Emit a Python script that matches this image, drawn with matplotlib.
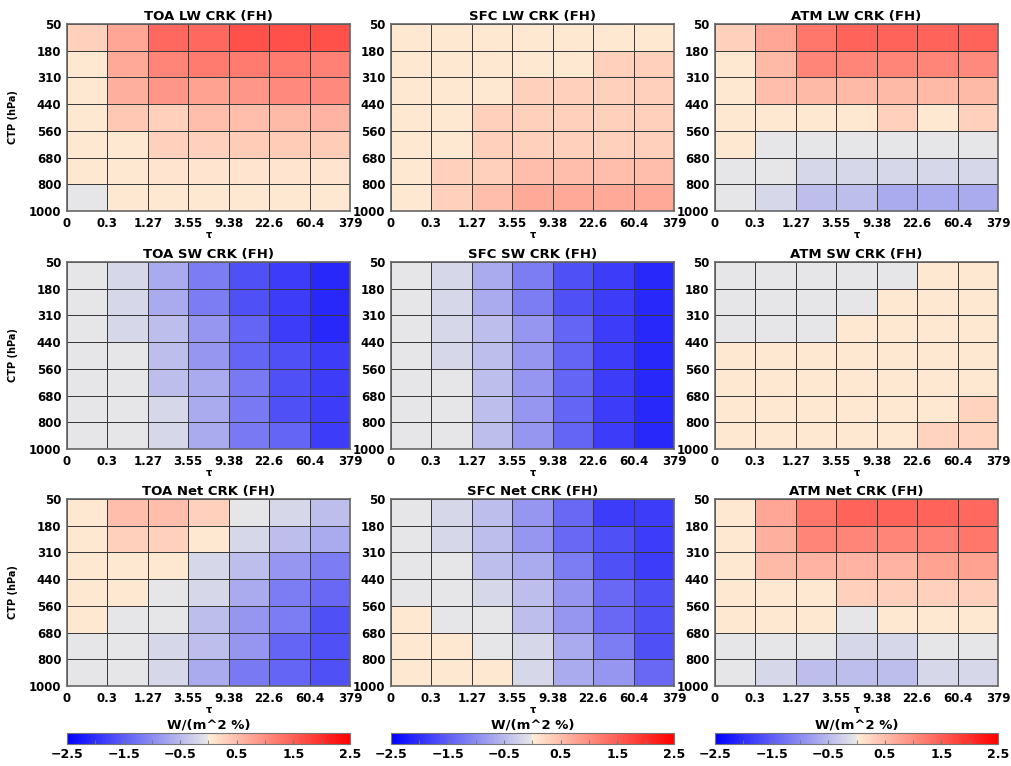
import numpy as np
import matplotlib
matplotlib.use("Agg")
import matplotlib.pyplot as plt
from matplotlib.colors import LinearSegmentedColormap, Normalize

# ---------------- data ----------------
tau_labels = ["0", "0.3", "1.27", "3.55", "9.38", "22.6", "60.4", "379"]
ctp_labels = ["50", "180", "310", "440", "560", "680", "800", "1000"]

# rows: CTP bins from top (50-180) to bottom (800-1000); cols: tau bins
toa_lw = [
    [0.30, 0.75, 1.40, 1.40, 1.65, 1.65, 1.65],
    [0.05, 0.72, 1.10, 1.20, 1.20, 1.20, 1.15],
    [0.05, 0.65, 0.90, 0.80, 0.90, 1.05, 1.05],
    [0.05, 0.40, 0.30, 0.50, 0.50, 0.55, 0.60],
    [0.05, 0.05, 0.30, 0.30, 0.35, 0.35, 0.35],
    [0.05, 0.05, 0.08, 0.08, 0.08, 0.08, 0.08],
    [-0.02, 0.05, 0.05, 0.05, 0.05, 0.05, 0.05],
]
sfc_lw = [
    [0.05, 0.05, 0.05, 0.05, 0.05, 0.05, 0.05],
    [0.05, 0.05, 0.05, 0.05, 0.05, 0.30, 0.30],
    [0.05, 0.05, 0.05, 0.30, 0.30, 0.30, 0.30],
    [0.05, 0.05, 0.30, 0.30, 0.30, 0.30, 0.30],
    [0.05, 0.05, 0.30, 0.30, 0.30, 0.30, 0.30],
    [0.05, 0.30, 0.30, 0.50, 0.50, 0.50, 0.50],
    [0.05, 0.30, 0.50, 0.72, 0.72, 0.72, 0.72],
]
atm_lw = [
    [0.30, 0.75, 1.25, 1.45, 1.45, 1.45, 1.45],
    [0.05, 0.55, 1.10, 1.10, 1.10, 1.10, 1.05],
    [0.05, 0.50, 0.55, 0.55, 0.55, 0.55, 0.55],
    [0.05, 0.05, 0.05, 0.05, 0.30, 0.05, 0.30],
    [0.05, -0.02, -0.02, -0.02, -0.02, -0.02, -0.02],
    [-0.02, -0.02, -0.18, -0.18, -0.18, -0.18, -0.18],
    [-0.02, -0.18, -0.45, -0.45, -0.67, -0.67, -0.67],
]
toa_sw = [
    [-0.02, -0.18, -0.67, -1.15, -1.64, -1.85, -2.07],
    [-0.02, -0.18, -0.67, -1.15, -1.64, -1.85, -2.07],
    [-0.02, -0.18, -0.45, -0.88, -1.42, -1.85, -2.07],
    [-0.02, -0.02, -0.45, -0.88, -1.42, -1.64, -1.85],
    [-0.02, -0.02, -0.45, -0.67, -1.20, -1.64, -1.85],
    [-0.02, -0.02, -0.18, -0.67, -1.20, -1.64, -1.85],
    [-0.02, -0.02, -0.18, -0.67, -1.20, -1.42, -1.85],
]
sfc_sw = [
    [-0.02, -0.18, -0.67, -1.15, -1.64, -1.85, -2.07],
    [-0.02, -0.18, -0.67, -1.15, -1.64, -1.85, -2.07],
    [-0.02, -0.18, -0.45, -0.88, -1.42, -1.85, -2.07],
    [-0.02, -0.18, -0.45, -0.88, -1.42, -1.85, -2.07],
    [-0.02, -0.02, -0.45, -0.88, -1.42, -1.85, -2.07],
    [-0.02, -0.02, -0.45, -0.88, -1.42, -1.85, -2.07],
    [-0.02, -0.02, -0.45, -0.88, -1.42, -1.85, -2.07],
]
atm_sw = [
    [-0.02, -0.02, -0.02, -0.02, -0.02, 0.05, 0.05],
    [-0.02, -0.02, -0.02, -0.02, 0.05, 0.05, 0.05],
    [-0.02, -0.02, -0.02, 0.05, 0.05, 0.05, 0.05],
    [0.05, 0.05, 0.05, 0.05, 0.05, 0.05, 0.05],
    [0.05, 0.05, 0.05, 0.05, 0.05, 0.05, 0.05],
    [0.05, 0.05, 0.05, 0.05, 0.05, 0.05, 0.28],
    [0.05, 0.05, 0.05, 0.05, 0.05, 0.28, 0.28],
]
toa_net = [
    [0.05, 0.50, 0.50, 0.30, -0.02, -0.18, -0.45],
    [0.05, 0.30, 0.30, 0.05, -0.18, -0.45, -0.67],
    [0.05, 0.05, 0.05, -0.18, -0.45, -0.88, -1.15],
    [0.05, 0.05, -0.02, -0.18, -0.67, -1.15, -1.37],
    [0.05, -0.02, -0.02, -0.45, -0.88, -1.15, -1.64],
    [-0.02, -0.02, -0.18, -0.45, -0.88, -1.42, -1.64],
    [-0.02, -0.02, -0.18, -0.67, -1.20, -1.42, -1.64],
]
sfc_net = [
    [-0.02, -0.18, -0.45, -0.88, -1.37, -1.85, -1.85],
    [-0.02, -0.18, -0.45, -0.88, -1.37, -1.64, -1.85],
    [-0.02, -0.02, -0.45, -0.67, -1.15, -1.64, -1.85],
    [-0.02, -0.02, -0.18, -0.45, -0.88, -1.37, -1.64],
    [0.05, -0.02, -0.02, -0.45, -0.88, -1.37, -1.64],
    [0.05, 0.05, -0.02, -0.18, -0.67, -1.15, -1.64],
    [0.05, 0.05, 0.05, -0.18, -0.67, -0.88, -1.37],
]
atm_net = [
    [0.05, 0.75, 1.25, 1.45, 1.45, 1.45, 1.40],
    [0.05, 0.65, 1.10, 1.10, 1.10, 1.15, 1.25],
    [0.05, 0.55, 0.60, 0.60, 0.60, 0.80, 0.80],
    [0.05, 0.05, 0.05, 0.30, 0.30, 0.30, 0.30],
    [0.05, 0.05, 0.05, -0.02, 0.05, 0.05, 0.05],
    [-0.02, -0.02, -0.02, -0.18, -0.18, -0.02, -0.02],
    [-0.02, -0.18, -0.45, -0.45, -0.45, -0.18, -0.18],
]

panels = [
    ("TOA LW CRK (FH)", toa_lw), ("SFC LW CRK (FH)", sfc_lw), ("ATM LW CRK (FH)", atm_lw),
    ("TOA SW CRK (FH)", toa_sw), ("SFC SW CRK (FH)", sfc_sw), ("ATM SW CRK (FH)", atm_sw),
    ("TOA Net CRK (FH)", toa_net), ("SFC Net CRK (FH)", sfc_net), ("ATM Net CRK (FH)", atm_net),
]
vmin, vmax = -2.5, 2.5
cbar_ticks = [-2.5, -1.5, -0.5, 0.5, 1.5, 2.5]
cbar_label = "W/(m^2 %)"

# ---------------- style ----------------
cdict = {
    "red":   [(0.0, 0.0, 0.0), (0.5, 0.91, 1.0), (1.0, 1.0, 1.0)],
    "green": [(0.0, 0.0, 0.0), (0.5, 0.91, 0.93), (1.0, 0.0, 0.0)],
    "blue":  [(0.0, 1.0, 1.0), (0.5, 0.91, 0.84), (1.0, 0.0, 0.0)],
}
cmap = LinearSegmentedColormap("bgr", cdict, N=512)
norm = Normalize(vmin, vmax)

W, H = 1012, 766
fig = plt.figure(figsize=(W / 100, H / 100), dpi=100)
plt.rcParams["font.family"] = ["DejaVu Sans"]

lefts = [67, 391, 715]
tops = [24, 262, 499]
aw, ah = 283, 187

def fax(l, t, w, h):
    return fig.add_axes([l / W, 1 - (t + h) / H, w / W, h / H])

for i, (title, data) in enumerate(panels):
    r, c = divmod(i, 3)
    ax = fax(lefts[c], tops[r], aw, ah)
    arr = np.array(data)
    ax.pcolormesh(np.arange(8), np.arange(8), arr, cmap=cmap, norm=norm,
                  edgecolors="#3a3a3a", linewidth=0.6)
    ax.set_xlim(0, 7)
    ax.set_ylim(7, 0)
    ax.set_xticks(np.arange(8))
    ax.set_xticklabels(tau_labels)
    ax.set_yticks(np.arange(8))
    ax.set_yticklabels(ctp_labels)
    ax.tick_params(length=0, labelsize=8.5, pad=4)
    for lab in ax.get_xticklabels() + ax.get_yticklabels():
        lab.set_fontweight("bold")
    for s in ax.spines.values():
        s.set_color("#666666")
        s.set_linewidth(1.2)
    ax.set_title(title, fontsize=9.5, fontweight="bold", pad=3)
    ax.set_xlabel("τ", fontsize=7, fontweight="bold", labelpad=0)
    if c == 0:
        ax.set_ylabel("CTP (hPa)", fontsize=7, fontweight="bold", labelpad=8)

sm = matplotlib.cm.ScalarMappable(norm=norm, cmap=cmap)
for c in range(3):
    cax = fax(lefts[c], 733, aw, 11)
    cb = fig.colorbar(sm, cax=cax, orientation="horizontal")
    cb.set_ticks(cbar_ticks)
    cb.ax.set_xticklabels([f"{t:g}".replace("-", "\u2212") for t in cbar_ticks],
                          fontsize=9, fontweight="bold")
    cb.ax.xaxis.set_minor_locator(matplotlib.ticker.MultipleLocator(0.5))
    cb.ax.tick_params(which="both", direction="in", length=3, color="#777777", pad=3)
    cb.outline.set_edgecolor("#777777")
    cb.ax.set_title(cbar_label, fontsize=9.5, fontweight="bold", pad=3)

fig.savefig("out.png", dpi=100)
